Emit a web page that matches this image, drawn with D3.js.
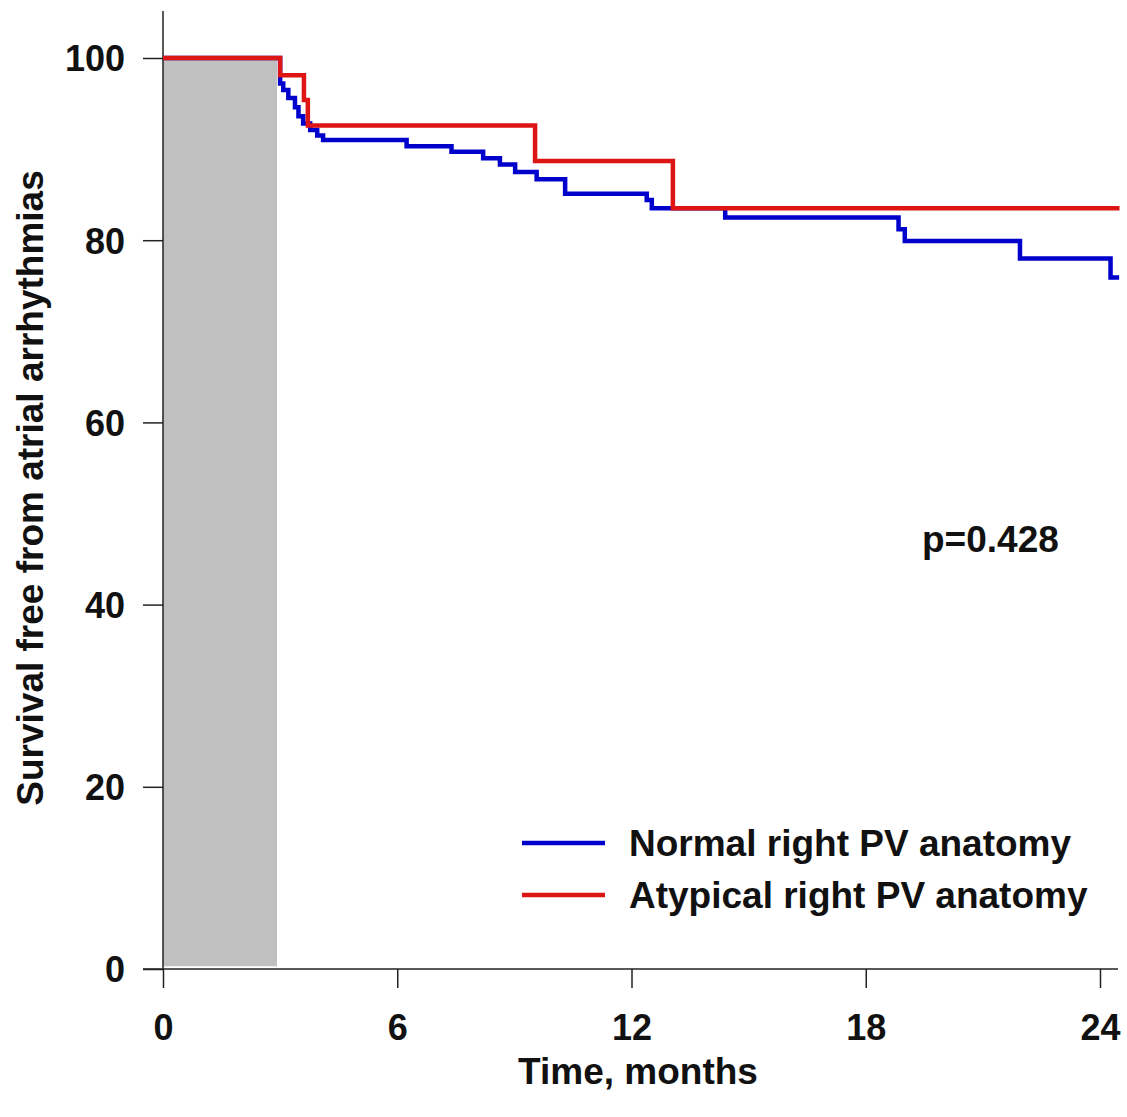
<!DOCTYPE html>
<html lang="en">
<head>
<meta charset="UTF-8">
<script src="https://d3js.org/d3.v7.min.js"></script>
<style>
    body { margin: 0; background: #fff; }
    text { font-family: "Liberation Sans", Arial, sans-serif; font-weight: bold; fill: #111; }
    .axis line, .axis path { stroke: #222; stroke-width: 1.5; }
</style>
</head>
<body>
<svg id="km" width="1127" height="1117"></svg>
<script>
    // Kaplan-Meier steps (time in months, survival %)
    const normalTimes = [0, 3.0, 3.08, 3.21, 3.38, 3.47, 3.59, 3.77, 3.95, 4.1, 6.24, 7.39, 8.2, 8.63, 9.02, 9.57, 10.3, 12.39, 12.52, 14.4, 18.84, 19.0, 21.95, 24.27, 24.49];
    const normalValues = [100, 97.2, 96.5, 95.6, 94.6, 93.6, 92.8, 92.1, 91.5, 91.0, 90.3, 89.7, 89.0, 88.3, 87.5, 86.7, 85.1, 84.4, 83.5, 82.5, 81.2, 79.9, 78.0, 75.9, 75.9];
    const atypicalTimes = [0, 3.0, 3.61, 3.71, 9.53, 13.06, 24.5];
    const atypicalValues = [100, 98.1, 95.4, 92.6, 88.7, 83.5, 83.5];

    const blankingPeriod = [0, 2.92];   // shaded months
    const xTicks = [0, 6, 12, 18, 24];
    const yTicks = [0, 20, 40, 60, 80, 100];
    const seriesNames = ['Normal right PV anatomy', 'Atypical right PV anatomy'];
    const pValue = 'p=0.428';

    const svg = d3.select('svg#km');

    const x = d3.scaleLinear().domain([0, 24]).range([163, 1100]);
    const y = d3.scaleLinear().domain([0, 100]).range([969, 58]);

    // shaded blanking period
    svg.append('rect')
        .attr('x', x(blankingPeriod[0]))
        .attr('y', y(100))
        .attr('width', x(blankingPeriod[1]) - x(blankingPeriod[0]))
        .attr('height', y(0.3) - y(100))
        .attr('fill', '#c0c0c0');

    // y axis
    const yAxis = svg.append('g')
        .attr('class', 'axis')
        .attr('transform', `translate(${x(0)},0)`)
        .call(d3.axisLeft(y).tickValues(yTicks).tickSize(20).tickSizeOuter(0).tickPadding(18));
    yAxis.select('.domain').attr('d', `M0,11V${y(0)}`);
    yAxis.selectAll('text').style('font-size', '36px').attr('dy', '0.36em');

    // x axis
    const xAxis = svg.append('g')
        .attr('class', 'axis')
        .attr('transform', `translate(0,${y(0)})`)
        .call(d3.axisBottom(x).tickValues(xTicks).tickSize(19).tickSizeOuter(0).tickPadding(26));
    xAxis.select('.domain').attr('d', `M${x(0) - 20},0H1118`);
    xAxis.selectAll('text').style('font-size', '36px').attr('dy', '0.72em');

    // step curves
    const line = d3.line()
        .x(d => x(d[0]))
        .y(d => y(d[1]))
        .curve(d3.curveStepAfter);

    const normal = normalTimes.map((t, i) => [t, normalValues[i]]);
    const atypical = atypicalTimes.map((t, i) => [t, atypicalValues[i]]);

    svg.append('path')
        .attr('d', line(normal))
        .attr('fill', 'none')
        .attr('stroke', '#0000cc')
        .attr('stroke-width', 4.5);

    svg.append('path')
        .attr('d', line(atypical))
        .attr('fill', 'none')
        .attr('stroke', '#dd1515')
        .attr('stroke-width', 4.5);

    // axis titles
    svg.append('text')
        .attr('transform', 'translate(43,488) rotate(-90)')
        .attr('text-anchor', 'middle')
        .style('font-size', '37px')
        .text('Survival free from atrial arrhythmias');

    svg.append('text')
        .attr('x', 638)
        .attr('y', 1084)
        .attr('text-anchor', 'middle')
        .style('font-size', '37px')
        .text('Time, months');

    svg.append('text')
        .attr('x', 922)
        .attr('y', 552)
        .style('font-size', '37px')
        .text(pValue);

    // legend
    const legendColors = ['#0000cc', '#dd1515'];
    const legend = svg.append('g');
    seriesNames.forEach((name, i) => {
        const ly = 843 + i * 52;
        legend.append('line')
            .attr('x1', 522).attr('x2', 605)
            .attr('y1', ly).attr('y2', ly)
            .attr('stroke', legendColors[i])
            .attr('stroke-width', 4.5);
        legend.append('text')
            .attr('x', 629)
            .attr('y', ly + 13)
            .style('font-size', '37px')
            .text(name);
    });
</script>
</body>
</html>
